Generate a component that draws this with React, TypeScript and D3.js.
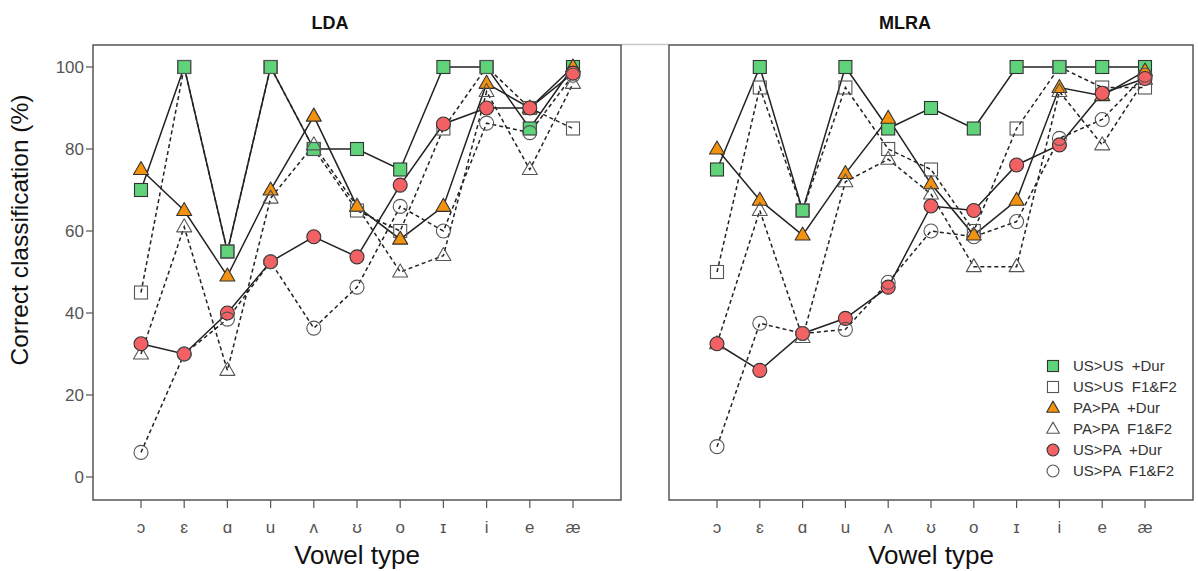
import React from "react";
import * as d3 from "d3";

const categories = ["ɔ", "ɛ", "ɑ", "u", "ʌ", "ʊ", "o", "ɪ", "i", "e", "æ"];
const yTicks = [0, 20, 40, 60, 80, 100];

// LDA panel
const ldaUsUsDur = [70, 100, 55, 100, 80, 80, 75, 100, 100, 85, 100];
const ldaUsUsF = [45, 100, 55, 100, 80, 65, 60, 85, 100, 90, 85];
const ldaPaPaDur = [75, 65, 49, 70, 88, 66, 58, 66, 96, 90, 100];
const ldaPaPaF = [30, 61, 26, 68, 81, 66, 50, 54, 94, 75, 96];
const ldaUsPaDur = [32.5, 30, 40, 52.5, 58.6, 53.7, 71.2, 86.1, 90, 90, 98.5];
const ldaUsPaF = [6, 30, 38.5, 52.5, 36.3, 46.3, 66, 60, 86.3, 84, 98];

// MLRA panel
const mlraUsUsDur = [75, 100, 65, 100, 85, 90, 85, 100, 100, 100, 100];
const mlraUsUsF = [50, 95, 65, 95, 80, 75, 60, 85, 100, 95, 95];
const mlraPaPaDur = [80, 67.5, 59, 74, 87.5, 71.5, 59, 67.5, 95, 93, 99];
const mlraPaPaF = [32.5, 65, 34, 72, 77.5, 69, 51.3, 51.3, 94, 81, 97];
const mlraUsPaDur = [32.5, 26, 35, 38.7, 46.3, 66.1, 65, 76.1, 81, 93.6, 97.2];
const mlraUsPaF = [7.4, 37.5, 35, 36, 47.5, 60, 58.6, 62.3, 82.6, 87.2, 98];

const seriesNames = ["US>US  +Dur", "US>US  F1&F2", "PA>PA  +Dur", "PA>PA  F1&F2", "US>PA  +Dur", "US>PA  F1&F2"];

const GREEN = "#5fd27a";
const ORANGE = "#f3920e";
const RED = "#f26163";
const FONT = "'Liberation Sans', Arial, 'DejaVu Sans', sans-serif";

type Style = { shape: "square" | "triangle" | "circle"; fill: string; dashed: boolean };
const styles: Style[] = [
  { shape: "square", fill: GREEN, dashed: false },
  { shape: "square", fill: "none", dashed: true },
  { shape: "triangle", fill: ORANGE, dashed: false },
  { shape: "triangle", fill: "none", dashed: true },
  { shape: "circle", fill: RED, dashed: false },
  { shape: "circle", fill: "none", dashed: true },
];

function Marker({ x, y, st, scale = 1 }: { x: number; y: number; st: Style; scale?: number }) {
  const filled = st.fill !== "none";
  const stroke = filled ? "#333" : "#555";
  const sw = 1.1;
  if (st.shape === "square") {
    const s = 13 * scale;
    return <rect x={x - s / 2} y={y - s / 2} width={s} height={s} fill={st.fill} stroke={stroke} strokeWidth={sw} />;
  }
  if (st.shape === "triangle") {
    const w = 15 * scale;
    const h = 13 * scale;
    const p = `M${x},${y - h * 0.62}L${x + w / 2},${y + h * 0.38}L${x - w / 2},${y + h * 0.38}Z`;
    return <path d={p} fill={st.fill} stroke={stroke} strokeWidth={sw} strokeLinejoin="round" />;
  }
  return <circle cx={x} cy={y} r={7 * scale} fill={st.fill} stroke={stroke} strokeWidth={sw} />;
}

const yScale = d3.scaleLinear().domain([0, 100]).range([477, 67]);

function Panel({ x0, x1, title, titleX, data, showY, legend }: { x0: number; x1: number; title: string; titleX: number; data: number[][]; showY: boolean; legend: boolean }) {
  const top = 45;
  const bottom = 500;
  const x = d3.scalePoint<string>().domain(categories).range([x0 + 48, x1 - 48]);
  const line = d3
    .line<number>()
    .x((_, i) => x(categories[i]) as number)
    .y((d) => yScale(d));
  const cx = ((x(categories[0]) as number) + (x(categories[categories.length - 1]) as number)) / 2;
  return (
    <g>
      <text x={titleX} y={29} textAnchor="middle" fontFamily={FONT} fontWeight="bold" fontSize={18} fill="#111">
        {title}
      </text>
      <rect x={x0} y={top} width={x1 - x0} height={bottom - top} fill="none" stroke="#555" strokeWidth={1.5} />
      {showY &&
        yTicks.map((t) => (
          <g key={t}>
            <line x1={x0 - 7} x2={x0} y1={yScale(t)} y2={yScale(t)} stroke="#555" strokeWidth={1.2} />
            <text x={x0 - 9} y={yScale(t) + 6} textAnchor="end" fontFamily={FONT} fontSize={17} fill="#555">
              {t}
            </text>
          </g>
        ))}
      {categories.map((c) => (
        <g key={c}>
          <line x1={x(c)} x2={x(c)} y1={bottom} y2={bottom + 8} stroke="#555" strokeWidth={1.2} />
          <text x={x(c)} y={533} textAnchor="middle" fontFamily={FONT} fontSize={17} fill="#555">
            {c}
          </text>
        </g>
      ))}
      <text x={cx} y={564} textAnchor="middle" fontFamily={FONT} fontSize={26} fill="#111">
        Vowel type
      </text>
      {data.map((vals, si) => (
        <path
          key={"l" + si}
          d={line(vals) || ""}
          fill="none"
          stroke="#222"
          strokeWidth={1.5}
          strokeDasharray={styles[si].dashed ? "4,3" : undefined}
        />
      ))}
      {data.map((vals, si) =>
        vals.map((v, i) => <Marker key={"m" + si + "-" + i} x={x(categories[i]) as number} y={yScale(v)} st={styles[si]} />)
      )}
      {legend &&
        seriesNames.map((n, i) => (
          <g key={n}>
            <Marker x={1053} y={366 + i * 21} st={styles[i]} scale={0.85} />
            <text x={1073} y={366 + i * 21 + 5} fontFamily={FONT} fontSize={15} fill="#333" style={{ whiteSpace: "pre" }}>
              {n}
            </text>
          </g>
        ))}
    </g>
  );
}

export default function App() {
  const lda = [ldaUsUsDur, ldaUsUsF, ldaPaPaDur, ldaPaPaF, ldaUsPaDur, ldaUsPaF];
  const mlra = [mlraUsUsDur, mlraUsUsF, mlraPaPaDur, mlraPaPaF, mlraUsPaDur, mlraUsPaF];
  return (
    <div style={{ position: "absolute", left: 0, top: 0 }}>
      <svg width={1198} height={571} style={{ display: "block", background: "#fff" }}>
        <line x1={621} x2={669} y1={44.5} y2={44.5} stroke="#c8c8c8" strokeWidth={1.5} />
        <Panel x0={93} x1={621} title="LDA" titleX={330} data={lda} showY={true} legend={false} />
        <Panel x0={669} x1={1193} title="MLRA" titleX={905} data={mlra} showY={false} legend={true} />
        <text
          transform={`translate(28,230) rotate(-90)`}
          textAnchor="middle"
          fontFamily={FONT}
          fontSize={24.5}
          fill="#111"
        >
          Correct classification (%)
        </text>
      </svg>
    </div>
  );
}
